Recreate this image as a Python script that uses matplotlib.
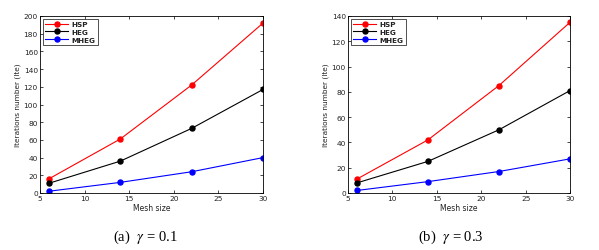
import numpy as np
import matplotlib
matplotlib.use("Agg")
import matplotlib.pyplot as plt

mesh = [6, 14, 22, 30]
names = ["HSP", "HEG", "MHEG"]
colors = ["red", "black", "blue"]

# gamma = 0.1
vals_a = [[16, 61, 122, 192],
          [11, 36, 73, 117],
          [2, 12, 24, 40]]
# gamma = 0.3
vals_b = [[11, 42, 85, 135],
          [8, 25, 50, 81],
          [2, 9, 17, 27]]

captions = ["(a)  $\\gamma$ = 0.1", "(b)  $\\gamma$ = 0.3"]
ylims = [200, 140]

plt.rcParams["font.family"] = "DejaVu Sans"
plt.rcParams["mathtext.fontset"] = "stix"

fig = plt.figure(figsize=(5.99, 2.51), dpi=100)
boxes = [[40/599, 1-194/251, 223/599, 177/251],
         [348/599, 1-194/251, 222/599, 177/251]]
cap_x = [145/599, 451/599]

for k, vals in enumerate([vals_a, vals_b]):
    ax = fig.add_axes(boxes[k])
    for i in range(3):
        ax.plot(mesh, vals[i], color=colors[i], marker="o", ms=3.6, lw=0.8, label=names[i])
    ax.set_xlim(5, 30)
    ax.set_ylim(0, ylims[k])
    ax.set_xticks([5, 10, 15, 20, 25, 30])
    ax.set_yticks(np.arange(0, ylims[k] + 1, 20))
    ax.tick_params(labelsize=5.3, length=2, width=0.5, direction="in", pad=1.5,
                   top=True, right=True, labelcolor="#222222")
    for s in ax.spines.values():
        s.set_linewidth(0.6)
    ax.set_xlabel("Mesh size", fontsize=5.5, labelpad=1.5, color="#222222")
    ax.set_ylabel("Iterations number (Ite)", fontsize=5.3, labelpad=2, color="#222222")
    leg = ax.legend(loc="upper left", prop={"size": 5.2, "weight": "bold"}, fancybox=False,
                    edgecolor="black", handlelength=3.2, handletextpad=0.4, borderpad=0.35,
                    labelspacing=0.25, borderaxespad=0.35)
    leg.get_frame().set_linewidth(0.6)
    for t in leg.get_texts():
        t.set_color("#222222")
    fig.text(cap_x[k], 1-237/251, captions[k], ha="center", va="center",
             fontsize=10.5, family="Liberation Serif")

fig.savefig("out.png", dpi=100)
